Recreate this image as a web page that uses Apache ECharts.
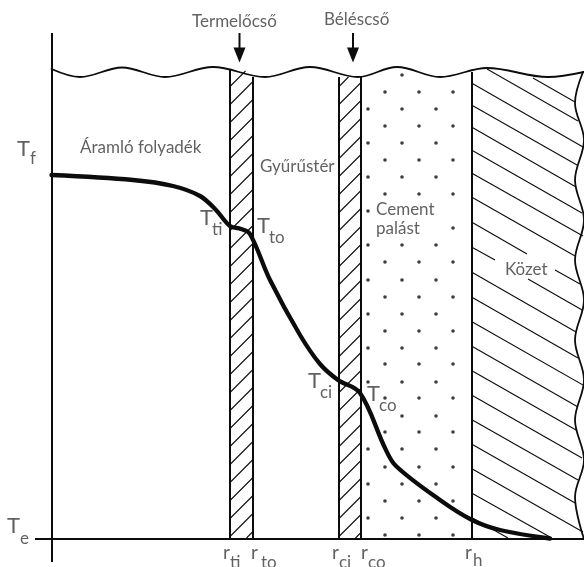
<!DOCTYPE html>
<html>
<head>
<meta charset="utf-8">
<style>html,body{margin:0;padding:0;background:#fff}#c{width:584px;height:567px}</style>
<script src="https://cdn.jsdelivr.net/npm/echarts@6/dist/echarts.min.js"></script>
</head>
<body>
<div id="c"></div>
<script>
// Temperature profile across the well (radius → x, temperature → y, both)
const tempCurve = [[51.5,175],[133,180],[173,186],[200,196],[216,210],[230,226],[241,229],[250,234],[270,280],[300,335],[320,364],[338,380],[360,393],[385,448],[396,466],[440,500],[472,520],[500,530],[550,538.5]];
const topWave = [[51.5,69],[80,77],[122,67.5],[165,77],[213,67],[265,77],[310,67],[358,77],[397,67],[440,77],[487,68],[548,77],[584,72]];
const rightWave = [[583,72],[575,103],[584,140],[575,180],[584,220],[575,260],[584,300],[575,340],[584,380],[575,420],[584,460],[575,497],[584,539]];
const walls = [[229.5,69,229.5,539],[252.5,77,252.5,539],[338.5,77,338.5,539],[361,77,361,539],[471.5,72,471.5,539]];
const tubeHatchLeftY = [87,105,123,141,159,177,195,213,231,249,267,285,303,321,339,357,375,393,411,429,447,465,483,501,519,537,555];
const rockHatch = [[533,78,575,102],[487,69,578,121],[471.5,83,583,147],[471.5,105,577,165],[471.5,127,576,187],[471.5,150,582,213],[471.5,173,583,236],[471.5,197,575,256],[471.5,222,527,254],[555,270,580,284],[471.5,247,495,260],[528,279,583,310.6],[471.5,272,576,332],[471.5,297,578,358],[471.5,321.5,584,385.6],[471.5,346,578,407],[471.5,370.5,576,430],[471.5,395,582,458],[471.5,419.5,578,480],[471.5,444,576,503.6],[471.5,468.5,583,532],[471.5,493,550,537],[471.5,517.5,508,538]];
const dotRowsA = [[75,[402]],[109,[368,402,436]],[143,[368,402,436]],[177,[368,402,436]],[211,[368]],[245,[368,402,436]],[280,[368,402,436]],[314,[368,402,436]],[348,[368,402,436]],[382,[368,402,436]],[416,[402,436]],[449,[368,402,436]],[484,[368,402,436]],[518,[368,402,436]]];
const dotRowsB = [[92,[385,419,453]],[126,[385,419,453]],[160,[385,419,453]],[194,[385,419,453]],[228,[453]],[262,[385,419,453]],[297,[385,419,453]],[331,[385,419,453]],[364,[385,419,453]],[398,[385,419,453]],[432,[385,419,453]],[467,[385,419,453]],[501,[385,419,453]],[535,[385,419,453]]];
const arrows = [[239.5,33,55],[353,33,55]];
const axesLines = [[51.7,33,51.7,562],[35,539,584,539]];
const bigLabels = [["Termelőcső",192,22],["Béléscső",324,20],["Áramló folyadék",80,148],["Gyűrűstér",260,167],["Cement",376,210],["palást",376,229],["Közet",505,270]];
const symT = [["T",17,149],["T",200,218],["T",257,226],["T",308,381],["T",367,394],["T",7,526]];
const symSub = [["f",30,159],["ti",212,230],["to",269,238],["ci",320,393],["co",379,406],["e",20,539]];
const radR = [["r",223,553],["r",251,553],["r",332,553],["r",361,553],["r",465,553]];
const radSub = [["ti",230,563],["to",261,563],["ci",339,563],["co",368,563],["h",473,561]];

const ink = '#0c0c0c', textInk = '#3a3a3a', font = 'Lato';
function tubeSegs(left, right, ytop) {
  const out = [];
  tubeHatchLeftY.forEach(function (y) {
    const c = left + y;
    const x0 = Math.max(left, c - 538), x1 = Math.min(right, c - ytop);
    if (x1 > x0) out.push([x0, c - x0, x1, c - x1]);
  });
  return out;
}
function segSeries(segs, width) {
  return {
    type: 'lines', coordinateSystem: 'cartesian2d', silent: true, z: 2,
    lineStyle: { color: ink, width: width, opacity: 1 },
    data: segs.map(function (s) { return { coords: [[s[0], s[1]], [s[2], s[3]]] }; })
  };
}
function lineSeries(pts, width, smooth, z, mono) {
  return { type: 'line', data: pts, symbol: 'none', smooth: smooth, smoothMonotone: mono, z: z || 3, silent: true,
    lineStyle: { color: ink, width: width, cap: 'round', join: 'round' } };
}
function labelSeries(items, size) {
  return {
    type: 'scatter', symbolSize: 0, silent: true, z: 6,
    data: items.map(function (t) { return { value: [t[1], t[2]], name: t[0] }; }),
    label: { show: true, position: 'right', distance: 0, color: textInk, fontFamily: font, fontSize: size,
      formatter: function (p) { return p.name; } }
  };
}
function dotsFrom(rows) {
  const out = [];
  rows.forEach(function (r) { r[1].forEach(function (x) { out.push([x, r[0]]); }); });
  return out;
}
const arrowSeries = arrows.map(function (a) {
  return {
    type: 'line', silent: true, z: 5, showSymbol: true,
    lineStyle: { color: ink, width: 2 }, itemStyle: { color: ink },
    data: [
      { value: [a[0], a[1]], symbol: 'none' },
      { value: [a[0], a[2]], symbol: 'triangle', symbolSize: [12, 15], symbolRotate: 180 }
    ]
  };
});

const chart = echarts.init(document.getElementById('c'), null, { renderer: 'canvas' });
chart.setOption({
  animation: false,
  backgroundColor: '#fff',
  grid: { left: 0, right: 0, top: 0, bottom: 0 },
  xAxis: { type: 'value', min: 0, max: 584, show: false },
  yAxis: { type: 'value', min: 0, max: 567, inverse: true, show: false },
  series: [
    segSeries(axesLines, 2),
    segSeries(walls, 2),
    segSeries(tubeSegs(229.5, 252.5, 71), 1.1),
    segSeries(tubeSegs(338.5, 361, 77), 1.1),
    segSeries(rockHatch, 1.1),
    lineSeries(topWave, 1.8, 0.36, 3, 'x'),
    lineSeries(rightWave, 1.8, 0.36, 3, 'y'),
    lineSeries(tempCurve, 4.3, 0.35, 4),
    {
      type: 'scatter', symbol: 'circle', symbolSize: 3.6, silent: true, z: 2,
      itemStyle: { color: ink }, data: dotsFrom(dotRowsA).concat(dotsFrom(dotRowsB))
    }
  ].concat(arrowSeries, [
    labelSeries(bigLabels, 17),
    labelSeries(symT, 22),
    labelSeries(symSub, 17),
    labelSeries(radR, 19),
    labelSeries(radSub, 17)
  ])
});
</script>
</body>
</html>
